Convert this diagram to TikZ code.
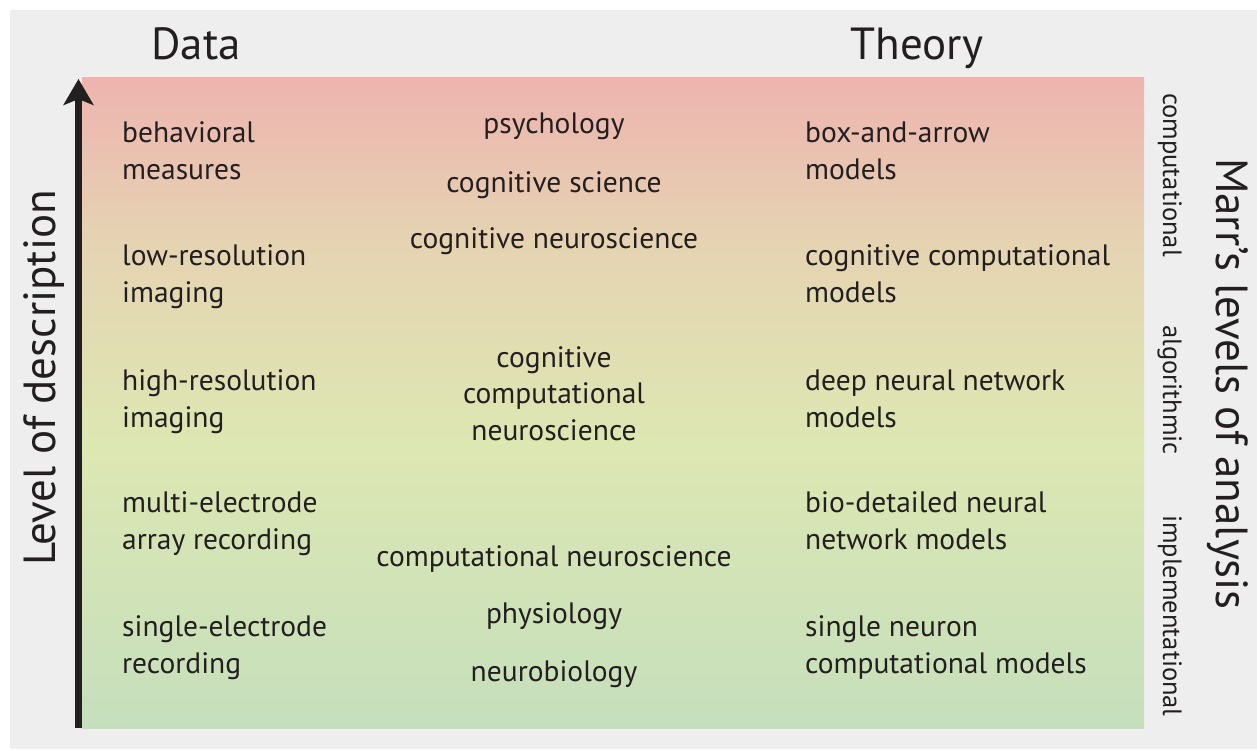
\documentclass[tikz,border=0pt]{standalone}
\usepackage{fontspec}
\setmainfont{PT Sans}
\usetikzlibrary{arrows.meta}
\definecolor{bggrey}{RGB}{237,238,237}
\definecolor{toppink}{RGB}{238,180,175}
\definecolor{tanmid}{RGB}{229,212,178}
\definecolor{midyellow}{RGB}{221,231,178}
\definecolor{botgreen}{RGB}{197,223,188}
\definecolor{ink}{RGB}{35,31,32}
\pgfdeclareverticalshading{levelshade}{100bp}{color(0bp)=(botgreen); color(25bp)=(botgreen); color(47bp)=(midyellow); color(62bp)=(tanmid); color(75bp)=(toppink); color(100bp)=(toppink)}
\tikzstyle{lbl}=[inner sep=0, text=ink, font=\fontsize{29.5}{36.5}\selectfont]
\tikzstyle{datalbl}=[lbl, anchor=base west, align=left]
\tikzstyle{fieldlbl}=[lbl, anchor=base, align=center]
\tikzstyle{headlbl}=[inner sep=0, text=ink, anchor=base, font=\fontsize{45}{50}\selectfont]
\tikzstyle{marrlbl}=[inner sep=0, text=ink, anchor=base, rotate=-90, font=\fontsize{26.5}{30}\selectfont]
\begin{document}
\begin{tikzpicture}[x=1pt,y=-1pt]
\useasboundingbox (0,0) rectangle (1257,749);
\fill[bggrey] (10,10) rectangle (1257,749);
\shade[shading=levelshade] (82,78) rectangle (1144,728);
% axis
\coordinate (axbot) at (78.5,728);
\coordinate (axtop) at (78.5,79);
\draw[ink, line width=6.5pt, -{Stealth[length=26pt,width=30pt,inset=6pt]}] (axbot)--(axtop);
% headings
\node[headlbl] (data) at (196,60) {Data};
\node[headlbl] (theory) at (917,60) {Theory};
\node[headlbl, rotate=90] (level) at (55,378) {Level of description};
\node[headlbl, rotate=-90] (marr) at (1216,384) {Marr’s levels of analysis};
\node[marrlbl] (comp) at (1163,175) {computational};
\node[marrlbl] (algo) at (1163,390) {algorithmic};
\node[marrlbl] (impl) at (1163,616) {implementational};
% data column (base = last line)
\node[datalbl] (d1) at (122,179) {behavioral\\measures};
\node[datalbl] (d2) at (122,302) {low-resolution\\imaging};
\node[datalbl] (d3) at (122,427) {high-resolution\\imaging};
\node[datalbl] (d4) at (122,549) {multi-electrode\\array recording};
\node[datalbl] (d5) at (122,673) {single-electrode\\recording};
% fields
\node[fieldlbl] (f1) at (554,133) {psychology};
\node[fieldlbl] (f2) at (554,192) {cognitive science};
\node[fieldlbl] (f3) at (554,248) {cognitive neuroscience};
\node[fieldlbl] (f4) at (554,440) {cognitive\\computational\\neuroscience};
\node[fieldlbl] (f5) at (554,566) {computational neuroscience};
\node[fieldlbl] (f6) at (554,623) {physiology};
\node[fieldlbl] (f7) at (554,681) {neurobiology};
% theory column
\node[datalbl] (t1) at (805,179) {box-and-arrow\\models};
\node[datalbl] (t2) at (805,302) {cognitive computational\\models};
\node[datalbl] (t3) at (805,427) {deep neural network\\models};
\node[datalbl] (t4) at (805,549) {bio-detailed neural\\network models};
\node[datalbl] (t5) at (805,673) {single neuron\\computational models};
\end{tikzpicture}
\end{document}
